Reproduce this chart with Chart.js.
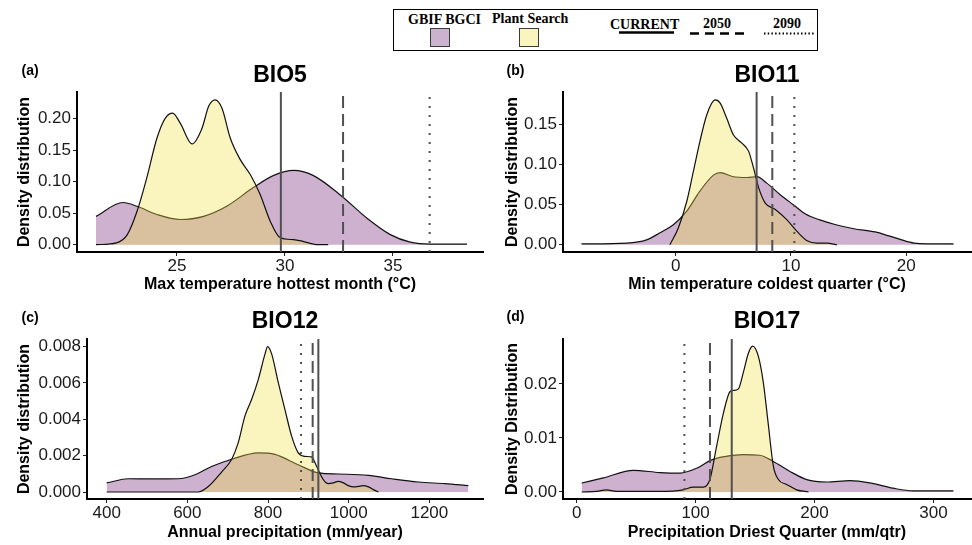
<!DOCTYPE html>
<html>
<head>
<meta charset="utf-8">
<script src="https://cdn.jsdelivr.net/npm/chart.js@4.4.0/dist/chart.umd.min.js"></script>
<style>
  html, body { margin: 0; padding: 0; background: #fff; }
  #page { position: relative; width: 972px; height: 545px; overflow: hidden; }
  .panel { position: absolute; }
  #legend { position: absolute; left: 393px; top: 9px; width: 425px; height: 42px; border: 1px solid #000;
    box-sizing: border-box; font-family: "Liberation Serif", "Times New Roman", serif; font-weight: bold;
    font-size: 14px; color: #000; }
  #legend .t { position: absolute; line-height: 14px; white-space: nowrap; }
  #legend .sw { position: absolute; width: 20px; height: 19px; border: 1px solid #3a3a3a; box-sizing: border-box; }
  #legend svg { position: absolute; }
</style>
</head>
<body>
<div id="page">
  <div id="legend">
    <span class="t" style="left:14px;top:3px">GBIF BGCI</span>
    <div class="sw" style="left:36px;top:18px;background:rgb(205,178,208)"></div>
    <span class="t" style="left:98px;top:2px">Plant Search</span>
    <div class="sw" style="left:125px;top:18px;background:rgb(250,244,190)"></div>
    <span class="t" style="left:216px;top:8px">CURRENT</span>
    <svg style="left:225px;top:20px" width="55" height="5"><line x1="0" y1="2.5" x2="55" y2="2.5" stroke="#000" stroke-width="2.5"/></svg>
    <span class="t" style="left:309px;top:7px">2050</span>
    <svg style="left:296px;top:21px" width="56" height="5"><line x1="0" y1="2.5" x2="56" y2="2.5" stroke="#000" stroke-width="2.5" stroke-dasharray="9 6"/></svg>
    <span class="t" style="left:379px;top:7px">2090</span>
    <svg style="left:370px;top:21px" width="50" height="5"><line x1="0" y1="2.5" x2="50" y2="2.5" stroke="#000" stroke-width="2" stroke-dasharray="1.5 2.2"/></svg>
  </div>
  <canvas id="bio5" class="panel" width="490" height="245" style="left:0;top:55px"></canvas>
  <canvas id="bio11" class="panel" width="482" height="245" style="left:490px;top:55px"></canvas>
  <canvas id="bio12" class="panel" width="490" height="245" style="left:0;top:300px"></canvas>
  <canvas id="bio17" class="panel" width="482" height="245" style="left:490px;top:300px"></canvas>
</div>
<script>
// BIO5 - max temperature hottest month
const bio5GbifX = [21.25, 22.5, 23.15, 24.07, 25.15, 26.23, 27.3, 28.55, 29.48, 30.4, 31.3, 32.56, 33.8, 34.88, 35.8, 36.73, 38.43];
const bio5GbifY = [0.045, 0.067, 0.061, 0.048, 0.040, 0.045, 0.061, 0.091, 0.110, 0.118, 0.110, 0.079, 0.042, 0.016, 0.004, 0.001, 0.001];
const bio5PlantX = [21.25, 22.2, 22.7, 23.15, 23.6, 24.07, 24.46, 24.8, 25.15, 25.7, 26.16, 26.47, 26.77, 27.08, 27.47, 27.93, 28.4, 28.86, 29.32, 29.78, 30.4, 30.86, 31.5, 32.0];
const bio5PlantY = [0, 0.003, 0.016, 0.053, 0.106, 0.169, 0.201, 0.209, 0.193, 0.160, 0.185, 0.220, 0.230, 0.217, 0.169, 0.135, 0.111, 0.079, 0.037, 0.011, 0.008, 0.005, 0, 0];
const bio5Lines = [29.81, 32.69, 36.70]; // current, 2050, 2090
const bio5XTicks = [25, 30, 35];
const bio5YTicks = [0, 0.05, 0.10, 0.15, 0.20];

// BIO11 - min temperature coldest quarter
const bio11GbifX = [-8.17, -4.26, -2.52, -1.36, -0.2, 0.96, 2.1, 3.28, 3.86, 5.0, 6.2, 7.04, 7.9, 9.07, 10.2, 11.3, 12.5, 13.9, 15.45, 17.3, 18.5, 19.6, 20.67, 21.8, 24.1];
const bio11GbifY = [0.001, 0.002, 0.006, 0.015, 0.025, 0.042, 0.067, 0.087, 0.090, 0.085, 0.084, 0.085, 0.077, 0.0625, 0.050, 0.038, 0.031, 0.025, 0.020, 0.016, 0.011, 0.006, 0.002, 0.001, 0.001];
const bio11PlantX = [-0.5, 0.23, 0.96, 1.54, 2.1, 2.7, 3.42, 3.86, 4.43, 5.0, 5.74, 6.32, 6.75, 7.2, 7.77, 8.64, 9.65, 10.5, 11.4, 12.26, 13.1, 14.0];
const bio11PlantY = [0, 0.021, 0.054, 0.092, 0.129, 0.1625, 0.181, 0.177, 0.158, 0.1375, 0.127, 0.117, 0.096, 0.071, 0.052, 0.044, 0.031, 0.017, 0.005, 0.002, 0.002, 0];
const bio11Lines = [7.02, 8.38, 10.29];
const bio11XTicks = [0, 10, 20];
const bio11YTicks = [0, 0.05, 0.10, 0.15];

// BIO12 - annual precipitation
const bio12GbifX = [400, 453.7, 511.6, 577.7, 619, 660, 710, 776, 817, 875, 925, 974, 1049, 1106.6, 1172.7, 1239, 1296.7];
const bio12GbifY = [0.0005, 0.00073, 0.00072, 0.00073, 0.00095, 0.0014, 0.0018, 0.00215, 0.00207, 0.0015, 0.00105, 0.00099, 0.00092, 0.00073, 0.00055, 0.00046, 0.00035];
const bio12PlantX = [400, 627, 652, 685, 710, 726, 743, 759.5, 776, 792.6, 799, 809, 825.6, 842, 858.7, 875, 891.7, 908, 920.7, 937, 949.6, 962, 974, 987, 999, 1012, 1024, 1036, 1049, 1065, 1074];
const bio12PlantY = [0, 0, 0.0003, 0.0011, 0.0018, 0.0027, 0.0042, 0.0051, 0.0062, 0.0076, 0.0080, 0.0076, 0.0060, 0.00453, 0.00306, 0.00215, 0.00196, 0.00193, 0.0014, 0.00068, 0.00046, 0.0005, 0.00059, 0.0005, 0.00035, 0.00028, 0.00031, 0.00035, 0.00028, 0.00009, 0];
const bio12Lines = [924.8, 910.7, 881.8];
const bio12XTicks = [400, 600, 800, 1000, 1200];
const bio12YTicks = [0, 0.002, 0.004, 0.006, 0.008];

// BIO17 - precipitation driest quarter
const bio17GbifX = [4.2, 22.4, 47.7, 70, 87, 101, 112, 120.5, 140, 154, 165, 179.4, 193.4, 210, 230, 246.7, 266, 283, 316.8];
const bio17GbifY = [0.00167, 0.0026, 0.0040, 0.0036, 0.0035, 0.0044, 0.0058, 0.0064, 0.0069, 0.0068, 0.0057, 0.0038, 0.0023, 0.00185, 0.0021, 0.00167, 0.0007, 0.0002, 0.0002];
const bio17PlantX = [4.2, 16.8, 25, 33.6, 70, 89.7, 98, 106.5, 112, 117.7, 123.4, 129, 131.8, 136, 140, 144.4, 148, 152.8, 157, 161, 165.4, 169.6, 176.6, 185, 195];
const bio17PlantY = [0, 0.0001, 0.0004, 0.0001, 0.0001, 0.0004, 0.0009, 0.0009, 0.0023, 0.0085, 0.0146, 0.0186, 0.0188, 0.0191, 0.022, 0.0257, 0.027, 0.0251, 0.0202, 0.0128, 0.0048, 0.0023, 0.0014, 0.0004, 0];
const bio17Lines = [130.4, 112.1, 90.6];
const bio17XTicks = [0, 100, 200, 300];
const bio17YTicks = [0, 0.01, 0.02];

Chart.defaults.font.family = '"Liberation Sans", Arial, sans-serif';
Chart.defaults.color = '#1a1a1a';

// title above the plot panel and the (a)/(b) tag
const panelLabels = {
    id: 'panelLabels',
    afterDraw(chart, args, o) {
        const { ctx, chartArea } = chart;
        ctx.save();
        ctx.fillStyle = '#000';
        ctx.textBaseline = 'alphabetic';
        ctx.font = 'bold 23px "Liberation Sans", Arial, sans-serif';
        ctx.textAlign = 'center';
        ctx.fillText(o.title, (chartArea.left + chartArea.right) / 2, o.titleY);
        ctx.font = 'bold 14px "Liberation Sans", Arial, sans-serif';
        ctx.textAlign = 'left';
        ctx.fillText(o.tag, o.tagX, o.tagY);
        ctx.restore();
    }
};

const dashStyles = [[], [12, 6], [2, 7]];

function densityChart(id, p) {
    const datasets = [];
    p.lines.forEach((v, i) => {
        datasets.push({
            data: [{ x: v, y: p.yMin }, { x: v, y: p.yMax }],
            borderColor: '#505050', borderWidth: 2, borderDash: dashStyles[i],
            pointRadius: 0, fill: false, order: 0
        });
    });
    datasets.push({
        label: 'Plant Search',
        data: p.plantX.map((x, i) => ({ x: x, y: p.plantY[i] })),
        borderColor: '#111', borderWidth: 1.2, backgroundColor: 'rgba(241,224,69,0.35)',
        fill: 'origin', pointRadius: 0, cubicInterpolationMode: 'monotone', order: 1
    });
    datasets.push({
        label: 'GBIF BGCI',
        data: p.gbifX.map((x, i) => ({ x: x, y: p.gbifY[i] })),
        borderColor: '#111', borderWidth: 1.2, backgroundColor: 'rgba(155,100,160,0.5)',
        fill: 'origin', pointRadius: 0, cubicInterpolationMode: 'monotone', order: 2
    });

    const gridOpts = { display: true, drawOnChartArea: false, drawTicks: true, tickLength: 4, color: '#222', lineWidth: 1 };
    const borderOpts = { display: true, color: '#000', width: 2 };

    new Chart(document.getElementById(id), {
        type: 'line',
        data: { datasets: datasets },
        options: {
            responsive: false,
            animation: false,
            layout: { padding: { top: p.top, right: p.right, left: 0, bottom: 0 }, autoPadding: false },
            plugins: {
                legend: { display: false },
                tooltip: { enabled: false },
                panelLabels: { title: p.title, titleY: p.titleY, tag: p.tag, tagX: p.tagX, tagY: p.tagY }
            },
            scales: {
                x: {
                    type: 'linear', min: p.xMin, max: p.xMax,
                    afterBuildTicks: (a) => { a.ticks = p.xTicks.map(v => ({ value: v })); },
                    afterFit: (s) => { s.height = p.xH; },
                    grid: gridOpts, border: borderOpts,
                    ticks: { font: { size: 17 }, color: '#1a1a1a', padding: 0, maxRotation: 0, autoSkip: false, callback: (v) => String(v) },
                    title: { display: true, text: p.xTitle, color: '#000', font: { size: 16, weight: 'bold' }, padding: { top: 0, bottom: p.xTitlePad } }
                },
                y: {
                    type: 'linear', min: p.yMin, max: p.yMax,
                    afterBuildTicks: (a) => { a.ticks = p.yTicks.map(v => ({ value: v })); },
                    afterFit: (s) => { s.width = p.yW; },
                    grid: gridOpts, border: borderOpts,
                    ticks: { font: { size: 17 }, color: '#1a1a1a', padding: 2, autoSkip: false, callback: (v) => v.toFixed(p.dec) },
                    title: { display: true, text: p.yTitle, color: '#000', font: { size: 16, weight: 'bold' }, padding: { top: p.yTitlePad, bottom: 0 } }
                }
            }
        },
        plugins: [panelLabels]
    });
}

densityChart('bio5', {
    gbifX: bio5GbifX, gbifY: bio5GbifY, plantX: bio5PlantX, plantY: bio5PlantY, lines: bio5Lines,
    xTicks: bio5XTicks, yTicks: bio5YTicks, dec: 2,
    xMin: 20.37, xMax: 39.17, yMin: -0.0116, yMax: 0.2424,
    top: 37, right: 7, yW: 77, xH: 48, xTitlePad: 6, yTitlePad: 15,
    title: 'BIO5', titleY: 26.7, tag: '(a)', tagX: 21.5, tagY: 19.5,
    xTitle: 'Max temperature hottest month (°C)', yTitle: 'Density distribution'
});

densityChart('bio11', {
    gbifX: bio11GbifX, gbifY: bio11GbifY, plantX: bio11PlantX, plantY: bio11PlantY, lines: bio11Lines,
    xTicks: bio11XTicks, yTicks: bio11YTicks, dec: 2,
    xMin: -9.77, xMax: 25.61, yMin: -0.0091, yMax: 0.1909,
    top: 37, right: 1, yW: 73, xH: 48, xTitlePad: 6, yTitlePad: 12.5,
    title: 'BIO11', titleY: 26.7, tag: '(b)', tagX: 16.5, tagY: 20,
    xTitle: 'Min temperature coldest quarter (°C)', yTitle: 'Density distribution'
});

densityChart('bio12', {
    gbifX: bio12GbifX, gbifY: bio12GbifY, plantX: bio12PlantX, plantY: bio12PlantY, lines: bio12Lines,
    xTicks: bio12XTicks, yTicks: bio12YTicks, dec: 3,
    xMin: 351.2, xMax: 1333, yMin: -0.000385, yMax: 0.00842,
    top: 39, right: 7, yW: 87, xH: 46, xTitlePad: 3, yTitlePad: 15,
    title: 'BIO12', titleY: 28.3, tag: '(c)', tagX: 21.5, tagY: 21.7,
    xTitle: 'Annual precipitation (mm/year)', yTitle: 'Density distribution'
});

densityChart('bio17', {
    gbifX: bio17GbifX, gbifY: bio17GbifY, plantX: bio17PlantX, plantY: bio17PlantY, lines: bio17Lines,
    xTicks: bio17XTicks, yTicks: bio17YTicks, dec: 2,
    xMin: -11.5, xMax: 331.6, yMin: -0.0013, yMax: 0.02833,
    top: 39, right: 1, yW: 73, xH: 46, xTitlePad: 3, yTitlePad: 13,
    title: 'BIO17', titleY: 28.3, tag: '(d)', tagX: 16.5, tagY: 21,
    xTitle: 'Precipitation Driest Quarter (mm/qtr)', yTitle: 'Density Distribution'
});
</script>
</body>
</html>
